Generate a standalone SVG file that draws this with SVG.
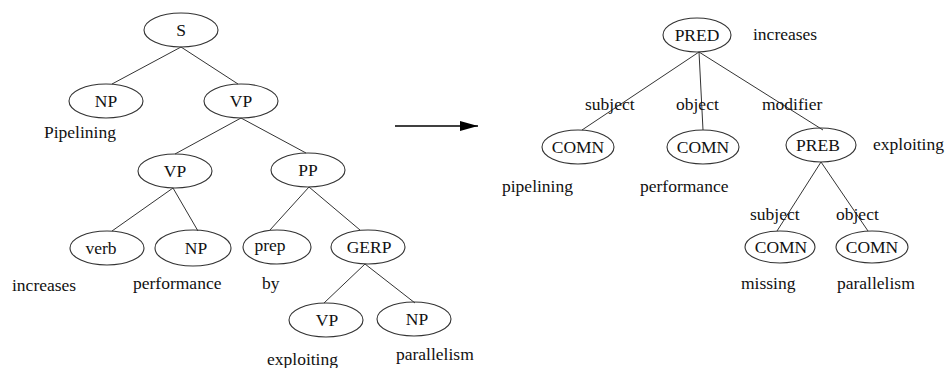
<svg xmlns="http://www.w3.org/2000/svg" width="947" height="368" viewBox="0 0 947 368">
<style>
ellipse{fill:none;stroke:#333;stroke-width:1.1}
line{stroke:#333;stroke-width:1}
text{font-size:17.5px;fill:#111}
.c{text-anchor:middle}
</style>
<defs>
<marker id="ah" viewBox="0 0 18 10" refX="18" refY="5" markerWidth="18" markerHeight="10" markerUnits="userSpaceOnUse" orient="auto"><path d="M0,0 L18,5 L0,10 z" fill="#000"/></marker>
</defs>
<g id="connectors">
<line x1="181" y1="47" x2="112" y2="84"/>
<line x1="181" y1="47" x2="238" y2="84"/>
<line x1="241" y1="118" x2="175" y2="154"/>
<line x1="241" y1="118" x2="306" y2="153"/>
<line x1="173" y1="188" x2="112" y2="231"/>
<line x1="173" y1="188" x2="198" y2="231"/>
<line x1="309" y1="187" x2="270" y2="230"/>
<line x1="309" y1="187" x2="360" y2="230"/>
<line x1="365" y1="264" x2="324" y2="303"/>
<line x1="365" y1="264" x2="415" y2="303"/>
<line x1="699" y1="52" x2="582" y2="130"/>
<line x1="699" y1="52" x2="703" y2="130"/>
<line x1="699" y1="52" x2="823" y2="130"/>
<line x1="821" y1="162" x2="777" y2="231"/>
<line x1="821" y1="162" x2="868" y2="231"/>
<line x1="395" y1="126" x2="478" y2="126" style="stroke:#000;stroke-width:1.5" marker-end="url(#ah)"/>
</g>
<g font-family="'Liberation Serif', 'DejaVu Serif', serif">
<g id="n-S"><ellipse cx="181" cy="30" rx="37" ry="17"/><text class="c" x="181" y="36">S</text></g>
<g id="n-NP1"><ellipse cx="106" cy="101" rx="37" ry="17"/><text class="c" x="106" y="107">NP</text><text x="44" y="138">Pipelining</text></g>
<g id="n-VP1"><ellipse cx="241" cy="101" rx="37" ry="17"/><text class="c" x="241" y="107">VP</text></g>
<g id="n-VP2"><ellipse cx="175" cy="171" rx="37" ry="17"/><text class="c" x="175" y="177">VP</text></g>
<g id="n-PP"><ellipse cx="308" cy="170" rx="37" ry="17"/><text class="c" x="308" y="176">PP</text></g>
<g id="n-verb"><ellipse cx="107" cy="248" rx="37" ry="17"/><text class="c" x="101" y="254">verb</text><text x="12" y="291">increases</text></g>
<g id="n-NP2"><ellipse cx="193" cy="248" rx="38" ry="18"/><text class="c" x="196" y="254">NP</text><text x="133" y="289">performance</text></g>
<g id="n-prep"><ellipse cx="277" cy="247" rx="34" ry="17"/><text class="c" x="270" y="251">prep</text><text x="262" y="289">by</text></g>
<g id="n-GERP"><ellipse cx="368" cy="247" rx="37" ry="17"/><text class="c" x="369" y="253">GERP</text></g>
<g id="n-VP3"><ellipse cx="326" cy="320" rx="37" ry="17"/><text class="c" x="327" y="326">VP</text><text x="267" y="365">exploiting</text></g>
<g id="n-NP3"><ellipse cx="414" cy="319" rx="37" ry="17"/><text class="c" x="417" y="325">NP</text><text x="396" y="360">parallelism</text></g>
<g id="n-PRED"><ellipse cx="697" cy="35" rx="34" ry="17"/><text class="c" x="697" y="41">PRED</text><text x="753" y="40">increases</text></g>
<g id="n-COMN1"><ellipse cx="578" cy="147" rx="36" ry="17"/><text class="c" x="578" y="153">COMN</text><text x="502" y="192">pipelining</text></g>
<g id="n-COMN2"><ellipse cx="703" cy="147" rx="36" ry="17"/><text class="c" x="703" y="153">COMN</text><text x="640" y="192">performance</text></g>
<g id="n-PREB"><ellipse cx="821" cy="145" rx="35" ry="17"/><text class="c" x="818" y="151">PREB</text><text x="873" y="150">exploiting</text></g>
<g id="n-COMN3"><ellipse cx="780" cy="247" rx="35" ry="16"/><text class="c" x="781" y="253">COMN</text><text x="741" y="289">missing</text></g>
<g id="n-COMN4"><ellipse cx="872" cy="247" rx="36" ry="16"/><text class="c" x="872" y="253">COMN</text><text x="837" y="289">parallelism</text></g>
<g id="labels">
<text x="585" y="110">subject</text>
<text x="676" y="110">object</text>
<text x="762" y="110">modifier</text>
<text x="750" y="220">subject</text>
<text x="836" y="220">object</text>
</g>
</g>
</svg>
